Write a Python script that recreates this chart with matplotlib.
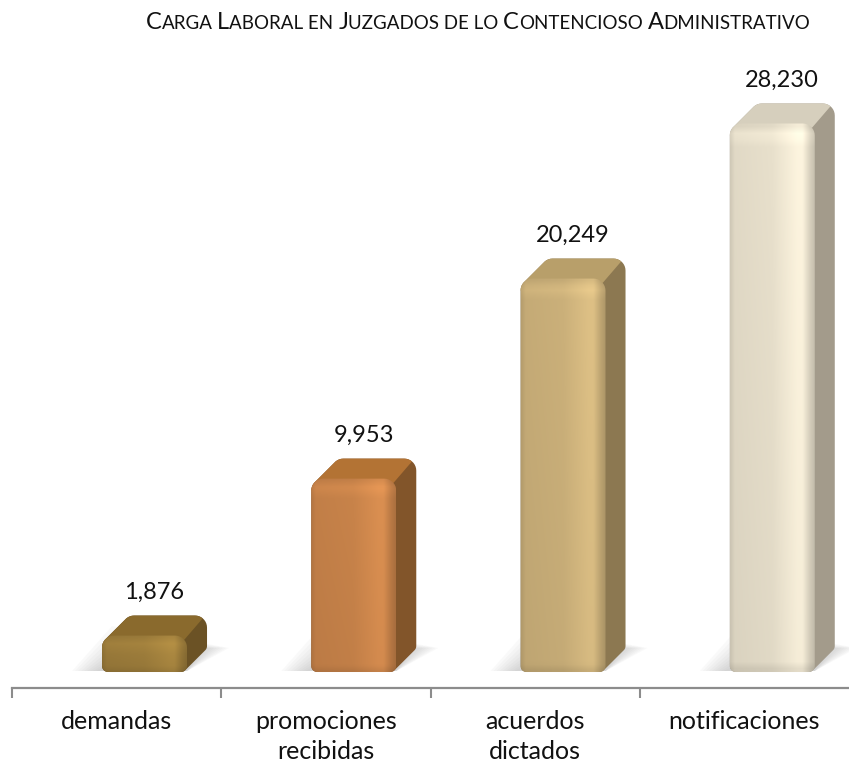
import numpy as np
import matplotlib
matplotlib.use('Agg')
import matplotlib.pyplot as plt
from matplotlib.patches import Polygon
from matplotlib.colors import to_rgb

plt.rcParams['font.family'] = ['Lato', 'DejaVu Sans']

TITLE = 'Carga Laboral en Juzgados de lo Contencioso Administrativo'
categories = ['demandas', 'promociones\nrecibidas', 'acuerdos\ndictados', 'notificaciones']
values = [1876, 9953, 20249, 28230]
value_labels = ['1,876', '9,953', '20,249', '28,230']

front_colors = ['#9c7c3b', '#c8834a', '#cbb07a', '#e8e0cc']
top_colors = ['#8a6a2d', '#b37334', '#b89f6a', '#d6cfbd']
side_colors = ['#6b5225', '#82552a', '#8c7851', '#a39b8b']

W, H = 849, 767
FRONT_W = 85      # px, width of the front face
FRONT_OFF = -14.6  # px, left edge of front face from category centre
DEPTH = 20        # px, oblique depth (x and y)
R_TOP = 12
R_BOT = 6


def rounded_rect(x0, y0, w, h, rt, rb, n=10):
    """points of a rectangle (pixel space, y up) with rounded corners"""
    pts = []
    corners = [
        (x0 + w - rb, y0 + rb, rb, -90, 0),
        (x0 + w - rt, y0 + h - rt, rt, 0, 90),
        (x0 + rt, y0 + h - rt, rt, 90, 180),
        (x0 + rb, y0 + rb, rb, 180, 270),
    ]
    for cx, cy, r, a0, a1 in corners:
        for a in np.linspace(np.radians(a0), np.radians(a1), n):
            pts.append((cx + r * np.cos(a), cy + r * np.sin(a)))
    return np.array(pts)


def hull(points):
    pts = sorted(set(map(tuple, np.round(points, 3))))
    if len(pts) < 3:
        return np.array(pts)

    def cross(o, a, b):
        return (a[0] - o[0]) * (b[1] - o[1]) - (a[1] - o[1]) * (b[0] - o[0])

    lower, upper = [], []
    for p in pts:
        while len(lower) >= 2 and cross(lower[-2], lower[-1], p) <= 0:
            lower.pop()
        lower.append(p)
    for p in reversed(pts):
        while len(upper) >= 2 and cross(upper[-2], upper[-1], p) <= 0:
            upper.pop()
        upper.append(p)
    return np.array(lower[:-1] + upper[:-1])


def draw_bar(ax, i, value, fc, tc, sc):
    to_px = ax.transData.transform
    to_data = ax.transData.inverted().transform
    bx, by = to_px((i, 0))
    tx, ty = to_px((i, value))
    x0 = bx + FRONT_OFF
    y0 = by
    h = ty - by

    front = rounded_rect(x0, y0, FRONT_W, h, R_TOP, R_BOT)
    back = front + np.array([DEPTH, DEPTH])

    # soft shadow on the floor
    for k in range(9):
        g = 3 * k
        shp = np.array([(x0 - 30 + g, y0 + 1), (x0 + FRONT_W, y0 + 1),
                        (x0 + FRONT_W + DEPTH + 22 - g, y0 + DEPTH + 4),
                        (x0 + DEPTH - 10 + g, y0 + DEPTH + 26 - g)])
        ax.add_patch(Polygon(to_data(shp), closed=True, facecolor='#707070',
                             edgecolor='none', alpha=0.035, zorder=1))

    # side (whole silhouette) then top
    ax.add_patch(Polygon(to_data(hull(np.vstack([front, back]))), closed=True,
                         facecolor=sc, edgecolor='none', zorder=2))
    ft = front[front[:, 1] >= y0 + h - R_TOP - 0.01]
    ft = ft[ft[:, 0] <= x0 + FRONT_W - 2]
    bt = back[back[:, 1] >= y0 + h + DEPTH - R_TOP - 0.01]
    bt = bt[bt[:, 0] <= x0 + FRONT_W + DEPTH - 4]
    ax.add_patch(Polygon(to_data(hull(np.vstack([ft, bt]))), closed=True,
                         facecolor=tc, edgecolor='none', zorder=3))

    # front face with horizontal / vertical shading
    fpoly = Polygon(to_data(front), closed=True, facecolor='none',
                    edgecolor='none', zorder=4)
    ax.add_patch(fpoly)
    nx, ny = 60, 80
    t = np.linspace(0, 1, nx)
    fx = np.interp(t, [0, 0.05, 0.5, 0.8, 0.86, 0.95, 1], [0.9, 0.97, 1.0, 1.09, 1.09, 0.93, 0.86])
    hy = max(h, 1)
    s = np.linspace(0, hy, ny)[::-1]
    fy = np.interp(s, [0, R_BOT, hy - R_TOP * 1.6, hy - R_TOP * 0.7, hy],
                   [0.9, 0.97, 1.0, 1.06, 0.97])
    base = np.array(to_rgb(fc))
    img = np.clip(base[None, None, :] * fx[None, :, None] * fy[:, None, None], 0, 1)
    (dx0, dy0) = to_data((x0, y0))
    (dx1, dy1) = to_data((x0 + FRONT_W, y0 + h))
    im = ax.imshow(img, extent=(dx0, dx1, dy0, dy1), aspect='auto',
                   interpolation='bilinear', zorder=4)
    im.set_clip_path(fpoly)


fig = plt.figure(figsize=(W / 100, H / 100), dpi=100)
ax = fig.add_axes([12 / W, 79 / H, 837 / W, 628 / H])
ax.set_xlim(-0.5, 3.5)
ax.set_ylim(-823, 31498)

for i, v in enumerate(values):
    draw_bar(ax, i, v, front_colors[i], top_colors[i], side_colors[i])
    sx = ax.transData.transform((1, 0))[0] - ax.transData.transform((0, 0))[0]
    cx = i + (FRONT_OFF + (FRONT_W + DEPTH) / 2) / sx
    ax.annotate(value_labels[i], xy=(cx, v), xytext=(0, 37),
                textcoords='offset pixels', ha='center', va='baseline',
                fontsize=17, color='#111111')

for side in ['top', 'right', 'left']:
    ax.spines[side].set_visible(False)
ax.spines['bottom'].set_color('#8c8c8c')
ax.spines['bottom'].set_linewidth(1.6)
ax.set_yticks([])
ax.set_xticks(range(len(categories)))
ax.set_xticklabels(categories, fontsize=18, linespacing=1.38, color='#111111')
ax.tick_params(axis='x', which='major', length=0, pad=16)
ax.set_xticks([-0.5, 0.5, 1.5, 2.5], minor=True)
ax.tick_params(axis='x', which='minor', length=7, width=1.5, color='#8c8c8c', direction='out')
ax.set_facecolor('none')

# title in small caps, built from runs of big / small letters
BIG, SMALL = 17, 13.5
renderer = fig.canvas.get_renderer()
runs = []
for ch in TITLE:
    big = ch.isupper()
    if runs and runs[-1][1] == big:
        runs[-1][0] += ch
    else:
        runs.append([ch, big])


def text_width(s, size):
    t = fig.text(0, 0, s, fontsize=size)
    w = t.get_window_extent(renderer).width
    t.remove()
    return w


space_w = text_width('A A', SMALL) - text_width('AA', SMALL)
items = []
total = 0
for s, big in runs:
    size = BIG if big else SMALL
    core = s.strip()
    w = text_width(core.upper(), size) + space_w * (s.startswith(' ') + s.endswith(' '))
    lead = space_w if s.startswith(' ') else 0
    items.append((core.upper(), size, w, lead))
    total += w

TITLE_CENTER = 478
x = TITLE_CENTER - total / 2
for s, size, w, lead in items:
    fig.text((x + lead) / W, 738 / H, s, fontsize=size, va='baseline', color='#111111')
    x += w

fig.savefig('out.png', dpi=100)
